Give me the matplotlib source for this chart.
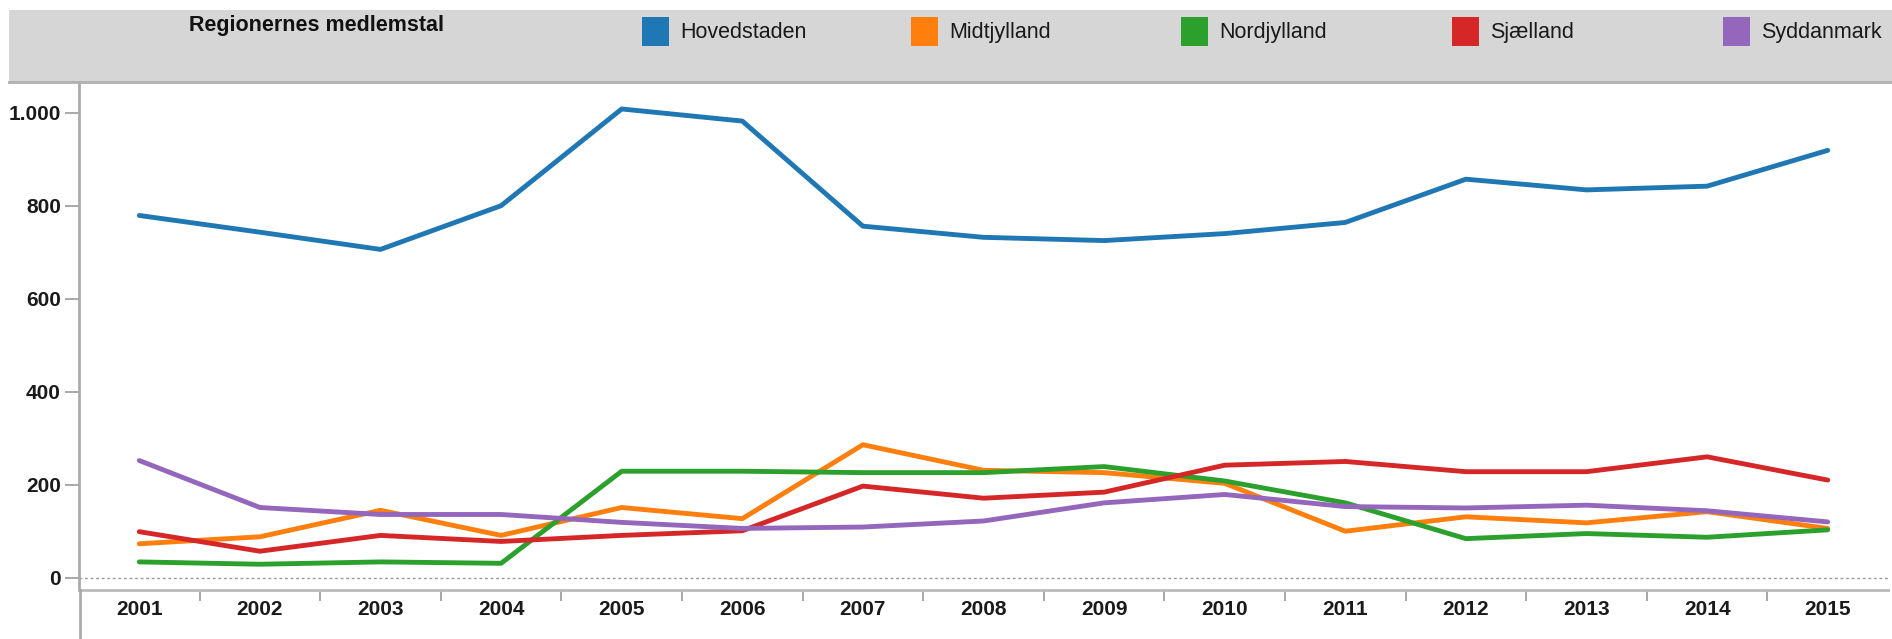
import matplotlib
matplotlib.use("Agg")
import matplotlib.pyplot as plt
from matplotlib.patches import Rectangle
from matplotlib.lines import Line2D

plt.rcParams["font.family"] = ["Liberation Sans", "DejaVu Sans"]

# --- data ---
years = [2001, 2002, 2003, 2004, 2005, 2006, 2007, 2008, 2009, 2010, 2011, 2012, 2013, 2014, 2015]
hovedstaden = [779, 743, 706, 800, 1008, 982, 756, 732, 725, 740, 764, 857, 834, 842, 919]
midtjylland = [73, 88, 145, 91, 151, 127, 286, 231, 226, 203, 100, 131, 118, 142, 106]
nordjylland = [34, 29, 34, 31, 229, 229, 226, 226, 239, 208, 161, 84, 95, 87, 103]
sjaelland = [99, 57, 91, 78, 91, 101, 197, 171, 184, 242, 250, 228, 228, 260, 210]
syddanmark = [252, 151, 136, 136, 119, 106, 109, 122, 161, 179, 153, 150, 156, 144, 120]

series = [("Hovedstaden", hovedstaden, "#1f77b4"),
          ("Midtjylland", midtjylland, "#ff7f0e"),
          ("Nordjylland", nordjylland, "#2ca02c"),
          ("Sjælland", sjaelland, "#d62728"),
          ("Syddanmark", syddanmark, "#9467bd")]
y_ticks = [0, 200, 400, 600, 800, 1000]
y_labels = ["0", "200", "400", "600", "800", "1.000"]

W, H = 1892, 639
fig = plt.figure(figsize=(W / 100, H / 100), dpi=100)


def fx(px):
    return px / W


def fy(py):
    return 1 - py / H


# grey header band with legend and title
fig.add_artist(Rectangle((fx(9), fy(82)), fx(W - 9), fy(10) - fy(82),
                         transform=fig.transFigure, facecolor="#d6d6d6", edgecolor="none"))
fig.add_artist(Line2D([fx(9), 1], [fy(82), fy(82)], transform=fig.transFigure,
                      color="#b0b0b0", lw=2))
fig.text(fx(316), fy(26), "Regionernes medlemstal", ha="center", va="center",
         fontsize=15.5, fontweight="bold", color="#111")

leg_x = [642, 911, 1181, 1452, 1723]
for (name, vals, col), lx in zip(series, leg_x):
    fig.add_artist(Rectangle((fx(lx), fy(45.5)), fx(27), fy(17.5) - fy(45.5),
                             transform=fig.transFigure, facecolor=col, edgecolor="none"))
    fig.text(fx(lx + 38), fy(32.5), name, ha="left", va="center", fontsize=15.5, color="#1a1a1a")

# plot area
ax = fig.add_axes([fx(79), fy(590), fx(1888) - fx(79), fy(82) - fy(590)])
for name, vals, col in series:
    ax.plot(years, vals, color=col, lw=3.5, solid_joinstyle="round", solid_capstyle="round")

ax.axhline(0, color="#999999", lw=1, ls=(0, (2, 2)), zorder=0)
ax.set_xlim(2000.5, 2015.5)
ax.set_ylim(-26.4, 1066)

ax.set_yticks(y_ticks)
ax.set_yticklabels(y_labels)
ax.tick_params(axis="y", length=10, width=1.2, color="#999999", pad=3,
               labelsize=15, labelcolor="#1a1a1a")

ax.set_xticks([y + 0.5 for y in years[:-1]])
ax.set_xticklabels([])
ax.set_xticks(years, minor=True)
ax.set_xticklabels([str(y) for y in years], minor=True)
ax.tick_params(axis="x", which="major", length=8, width=1.2, color="#999999")
ax.tick_params(axis="x", which="minor", length=0, pad=7, labelsize=15, labelcolor="#1a1a1a")
for lbl in ax.get_yticklabels() + ax.get_xticklabels(minor=True):
    lbl.set_fontweight("bold")

for s in ["top", "right"]:
    ax.spines[s].set_visible(False)
ax.spines["left"].set_color("#aaaaaa")
ax.spines["left"].set_linewidth(2)
ax.spines["bottom"].set_color("#bbbbbb")
ax.spines["bottom"].set_linewidth(2)

# left axis line runs on to the bottom edge
fig.add_artist(Line2D([fx(80), fx(80)], [0, fy(590)], transform=fig.transFigure,
                      color="#aaaaaa", lw=2))

fig.savefig("out.png", dpi=100)
